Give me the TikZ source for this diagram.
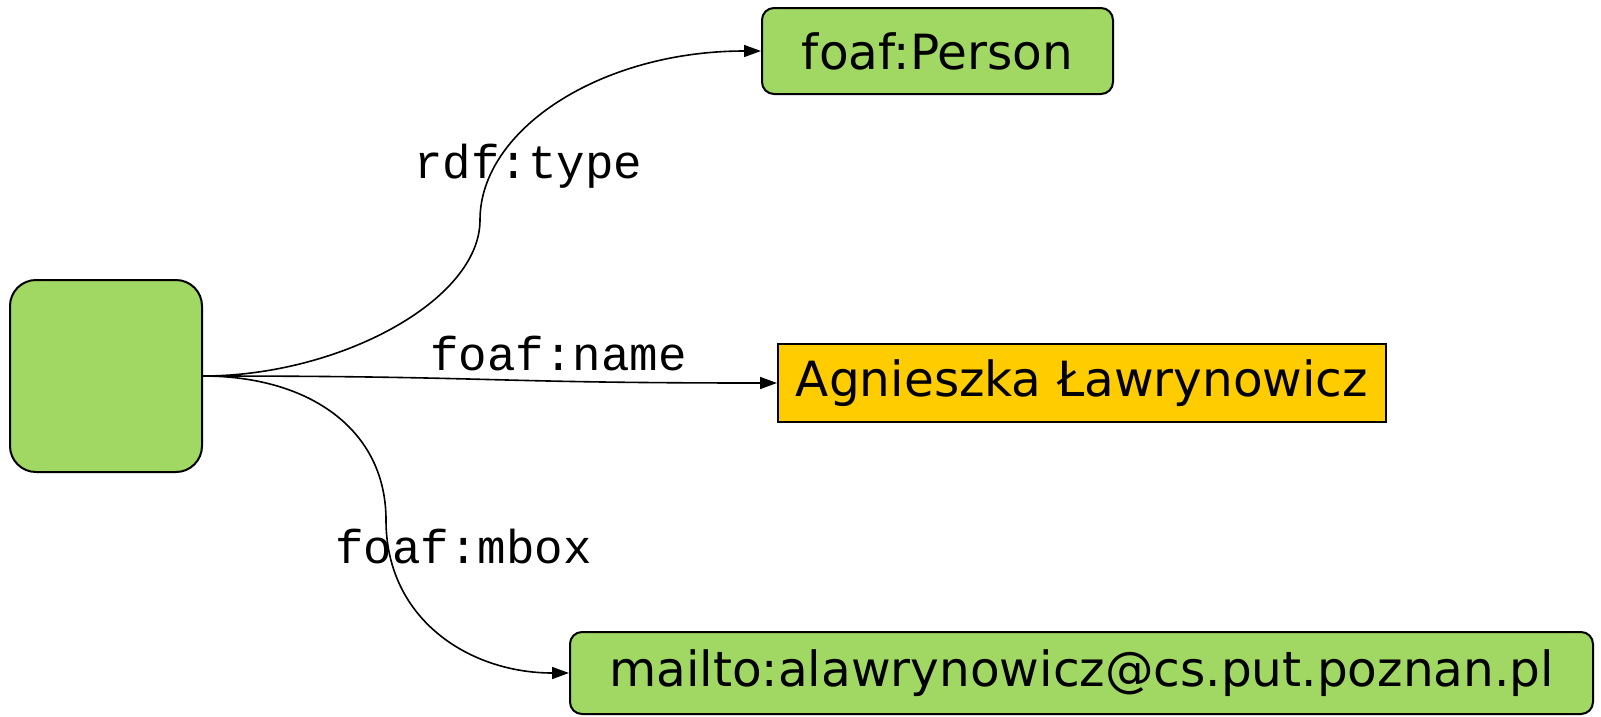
\documentclass[tikz,border=0pt]{standalone}
\usepackage{fontspec}
\setmainfont{DejaVu Sans}
\newfontfamily\labelmono{Liberation Mono}
\usetikzlibrary{arrows.meta}
\definecolor{nodegreen}{RGB}{161,215,99}
\definecolor{litorange}{RGB}{255,204,0}
\tikzset{
  resbox/.style={draw=black, line width=2pt, fill=nodegreen, rounded corners=12pt,
    inner sep=0pt, font=\fontsize{48.5}{58}\selectfont},
  litbox/.style={draw=black, line width=2pt, fill=litorange,
    inner sep=0pt, font=\fontsize{48.5}{58}\selectfont},
  blanknode/.style={draw=black, line width=2pt, fill=nodegreen, rounded corners=26pt,
    minimum width=192pt, minimum height=192pt, inner sep=0pt},
  prop/.style={line width=1.6pt, -{Triangle[length=17pt,width=12pt]}},
  proplabel/.style={inner sep=0pt, anchor=base west,
    font=\labelmono\fontsize{47.5}{57}\selectfont}
}
\begin{document}
\begin{tikzpicture}[x=1pt,y=-1pt]
  \useasboundingbox (0,0) rectangle (1601,716);

  % subject (blank node) and its objects
  \node[blanknode] (subj) at (106,376) {};
  \node[resbox, minimum width=351pt, minimum height=86pt] (person) at (937.5,51) {foaf:Person};
  \node[litbox, minimum width=608pt, minimum height=78pt] (name) at (1082,383) {Agnieszka Ławrynowicz};
  \node[resbox, minimum width=1023pt, minimum height=82pt] (mbox) at (1081.5,673) {mailto:alawrynowicz@cs.put.poznan.pl};

  % bend points of the curved properties
  \coordinate (typemid) at (480,220);
  \coordinate (mboxmid) at (386,520);

  % properties
  \draw[prop] (subj.east) .. controls (340,376) and (480,300) .. (typemid)
              .. controls (480,130) and (600,51) .. (person.west);
  \draw[prop] (subj.east) .. controls (500,376) and (480,383) .. (name.west);
  \draw[prop] (subj.east) .. controls (310,376) and (386,430) .. (mboxmid)
              .. controls (386,620) and (470,673) .. (mbox.west);

  % property labels
  \node[proplabel] (ltype) at (414,178) {rdf:type};
  \node[proplabel] (lname) at (430,370) {foaf:name};
  \node[proplabel] (lmbox) at (335,563) {foaf:mbox};
\end{tikzpicture}
\end{document}
